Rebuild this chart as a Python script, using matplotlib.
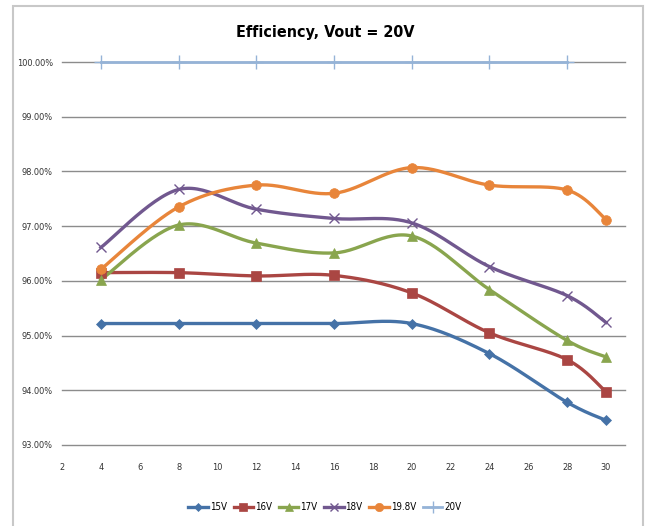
import numpy as np
import matplotlib
matplotlib.use("Agg")
import matplotlib.pyplot as plt
from matplotlib.patches import Rectangle
from matplotlib.lines import Line2D
from matplotlib.ticker import FuncFormatter

x_vals = [4, 8, 12, 16, 20, 24, 28, 30]
x_20v = [4, 8, 12, 16, 20, 24, 28]
s15 = [95.22, 95.22, 95.22, 95.22, 95.22, 94.67, 93.78, 93.45]
s16 = [96.15, 96.15, 96.09, 96.10, 95.78, 95.05, 94.56, 93.97]
s17 = [96.02, 97.02, 96.69, 96.51, 96.82, 95.84, 94.91, 94.61]
s18 = [96.61, 97.67, 97.31, 97.14, 97.06, 96.26, 95.73, 95.24]
s198 = [96.21, 97.35, 97.75, 97.60, 98.07, 97.75, 97.66, 97.12]
s20 = [100.0, 100.0, 100.0, 100.0, 100.0, 100.0, 100.0]
labels = ["15V", "16V", "17V", "18V", "19.8V", "20V"]
x_ticks = list(range(2, 31, 2))
y_ticks = [93, 94, 95, 96, 97, 98, 99, 100]

colors = ["#4572A7", "#AA4643", "#89A54E", "#71588F", "#E8853A", "#95B3D7"]
markers = ["D", "s", "^", "x", "o", "+"]
msizes = [5, 6.5, 6.5, 7, 7, 10]

plt.rcParams['font.family'] = ['DejaVu Sans']
plt.rcParams['font.stretch'] = 'condensed'

def smooth(xs, ys, n=30):
    P = np.column_stack([xs, ys]).astype(float)
    m = len(P)
    out = []
    for i in range(m - 1):
        p0 = P[i - 1] if i > 0 else P[i]
        p1 = P[i]
        p2 = P[i + 1]
        p3 = P[i + 2] if i + 2 < m else P[i + 1]
        c1 = p1 + (p2 - p0) / 6.0
        c2 = p2 - (p3 - p1) / 6.0
        t = np.linspace(0, 1, n)[:, None]
        seg = ((1 - t) ** 3) * p1 + 3 * ((1 - t) ** 2) * t * c1 + 3 * (1 - t) * t ** 2 * c2 + t ** 3 * p2
        out.append(seg if i == 0 else seg[1:])
    arr = np.vstack(out)
    return arr[:, 0], arr[:, 1]

W, H = 646, 526
fig = plt.figure(figsize=(W / 100, H / 100), dpi=100)
fig.patches.append(Rectangle((13 / W, -0.01), (643 - 13) / W, 1 - 6 / H + 0.01,
                             transform=fig.transFigure, fill=False,
                             edgecolor="#C8C8C8", linewidth=1.5))

ax = fig.add_axes([62 / W, 1 - 445 / H, (625 - 62) / W, (445 - 62) / H])
xmax = 2 + (625 - 62) / ((606 - 62) / 28)
ax.set_xlim(2, xmax)
ax.set_ylim(93, 100)
ax.set_xticks(x_ticks)
ax.set_yticks(y_ticks)
ax.yaxis.set_major_formatter(FuncFormatter(lambda v, p: f"{v:.2f}%"))
ax.grid(axis="y", color="#8C8C8C", linewidth=1)
for gl in ax.get_ygridlines():
    gl.set_clip_on(False)
ax.set_axisbelow(True)
for s in ax.spines.values():
    s.set_visible(False)
ax.tick_params(length=0, labelsize=6.6, colors="#333333")
ax.tick_params(axis="x", pad=13)
ax.tick_params(axis="y", pad=6.5)

series = [s15, s16, s17, s18, s198, s20]
xsets = [x_vals] * 5 + [x_20v]
handles = []
for ys, xs, c, mk, ms, lab in zip(series, xsets, colors, markers, msizes, labels):
    sx, sy = smooth(xs, ys)
    lw = 2.4 if lab != "20V" else 2.0
    ax.plot(sx, sy, color=c, lw=lw, clip_on=False, zorder=3)
    mew = 1.0 if mk in ("x", "+") else 0.5
    ax.plot(xs, ys, linestyle="none", marker=mk, markersize=ms, color=c,
            markeredgecolor=c, markeredgewidth=mew, clip_on=False, zorder=4)
    handles.append(Line2D([], [], color=c, lw=lw, marker=mk, markersize=ms - 1,
                          markeredgecolor=c, markeredgewidth=mew))

fig.text(0.503, 1 - 33 / H, "Efficiency, Vout = 20V", ha="center", va="center",
         fontsize=11.5, fontweight="bold", fontstretch="condensed", color="#000000")

fig.legend(handles, labels, loc="center", bbox_to_anchor=(0.503, 1 - 507 / H),
           ncol=6, frameon=False, fontsize=7, handlelength=2.0,
           handletextpad=0.2, columnspacing=0.7)

fig.savefig("out.png", dpi=100)
